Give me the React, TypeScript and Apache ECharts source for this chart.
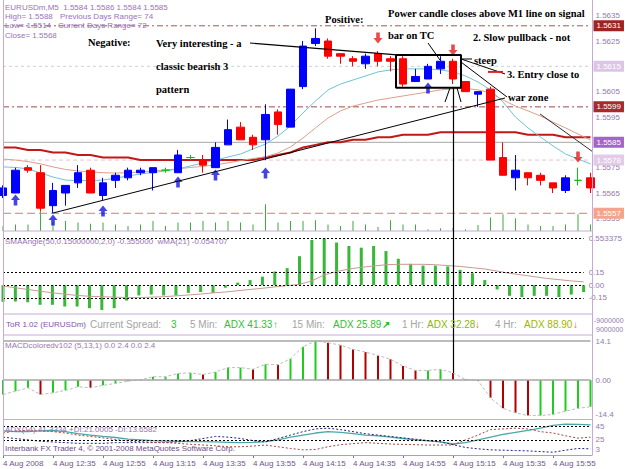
import React, { useEffect, useRef } from "react";
import * as echarts from "echarts";

// ---------- data ----------
const times = ["12:15","12:20","12:25","12:30","12:35","12:40","12:45","12:50","12:55","13:00","13:05","13:10","13:15","13:20","13:25","13:30","13:35","13:40","13:45","13:50","13:55","14:00","14:05","14:10","14:15","14:20","14:25","14:30","14:35","14:40","14:45","14:50","14:55","15:00","15:05","15:10","15:15","15:20","15:25","15:30","15:35","15:40","15:45","15:50","15:55","16:00","16:05","16:10"];

const opens = [1.5564,1.5565,1.5575,1.5573,1.5560,1.5565,1.5569,1.5574,1.5564,1.5570,1.5571,1.5573,1.5573,1.5574,1.5573,1.5579,1.5578,1.5575,1.5584,1.5591,1.5587,1.5586,1.5597,1.5591,1.5607,1.5624,1.5625,1.5620,1.5618,1.5616,1.5620,1.5618,1.5618,1.5609,1.5610,1.5614,1.5617,1.5609,1.5604,1.5606,1.5579,1.5571,1.5573,1.5572,1.5569,1.5566,1.5570,1.5571];
const closes = [1.5567,1.5574,1.5574,1.5559,1.5566,1.5568,1.5573,1.5565,1.5569,1.5572,1.5574,1.5574,1.5575,1.5574,1.5580,1.5579,1.5576,1.5583,1.5590,1.5586,1.5584,1.5596,1.5592,1.5606,1.5623,1.5626,1.5619,1.5619,1.5617,1.5619,1.5617,1.5617,1.5608,1.5611,1.5615,1.5617,1.5610,1.5605,1.5605,1.5578,1.5572,1.5574,1.5571,1.5570,1.5567,1.5571,1.5570,1.5567];
const lows = [1.5563,1.5565,1.5573,1.5558,1.5557,1.5560,1.5567,1.5565,1.5562,1.5567,1.5570,1.5572,1.5566,1.5573,1.5573,1.5578,1.5573,1.5575,1.5584,1.5586,1.5582,1.5578,1.5588,1.5591,1.5606,1.5623,1.5618,1.5616,1.5615,1.5614,1.5615,1.5613,1.5607,1.5609,1.5610,1.5612,1.5608,1.5605,1.5599,1.5578,1.5572,1.5566,1.5568,1.5568,1.5565,1.5565,1.5568,1.5565];
const highs = [1.5568,1.5575,1.5576,1.5576,1.5569,1.5568,1.5576,1.5575,1.5571,1.5573,1.5575,1.5575,1.5575,1.5575,1.5582,1.5580,1.5580,1.5585,1.5594,1.5593,1.5588,1.5600,1.5598,1.5606,1.5625,1.5630,1.5626,1.5620,1.5619,1.5620,1.5621,1.5619,1.5619,1.5614,1.5616,1.5619,1.5618,1.5609,1.5605,1.5607,1.5585,1.5580,1.5573,1.5573,1.5569,1.5572,1.5575,1.5573];

const maSlow = [1.5583,1.5583,1.5582,1.5582,1.5581,1.5581,1.5580,1.5580,1.5579,1.5579,1.5579,1.5578,1.5578,1.5578,1.5578,1.5578,1.5578,1.5578,1.5578,1.5578,1.5578,1.5579,1.5580,1.5581,1.5583,1.5584,1.5585,1.5585,1.5586,1.5586,1.5587,1.5587,1.5588,1.5588,1.5588,1.5589,1.5589,1.5589,1.5589,1.5589,1.5589,1.5589,1.5588,1.5588,1.5588,1.5587,1.5587,1.5587];
const maMid = [1.55784,1.55780,1.55774,1.55765,1.55753,1.55743,1.55737,1.55733,1.55730,1.55729,1.55730,1.55733,1.55737,1.55741,1.55745,1.55751,1.55755,1.55761,1.55769,1.55778,1.55786,1.55793,1.55808,1.55832,1.55867,1.55907,1.55946,1.55974,1.55993,1.56005,1.56017,1.56025,1.56033,1.56041,1.56049,1.56057,1.56061,1.56063,1.56057,1.56045,1.56017,1.55993,1.55974,1.55954,1.55930,1.55907,1.55883,1.55859];
const maFast = [1.55753,1.55751,1.55745,1.55729,1.55713,1.55701,1.55699,1.55699,1.55701,1.55709,1.55717,1.55725,1.55731,1.55737,1.55745,1.55757,1.55769,1.55780,1.55792,1.55804,1.55824,1.55843,1.55875,1.55915,1.55966,1.56013,1.56057,1.56080,1.56096,1.56112,1.56128,1.56136,1.56140,1.56140,1.56140,1.56136,1.56128,1.56112,1.56088,1.56057,1.56009,1.55950,1.55907,1.55871,1.55836,1.55804,1.55784,1.55765];

const volumes = [22,29,29,123,37,44,37,32,37,29,22,29,44,22,37,37,44,37,44,37,29,117,37,44,44,47,29,22,44,29,18,47,29,29,8,12,13,8,26,59,73,56,29,22,22,29,73,29];

const upArrowBars = [1,4,8,14,17,21,34];
const upArrowPrices = [1.55622,1.55543,1.55579,1.55693,1.55721,1.55729,1.56064];
const downArrowBars = [30,36,46];
const downArrowPrices = [1.56262,1.56214,1.55792];

const priceTicks = [1.5555,1.5565,1.5575,1.5585,1.5595,1.5605,1.5615,1.5625,1.5635];

// horizontal price levels drawn on the chart, with their right-hand tags
const levelPrices = [1.5631,1.5615,1.5599,1.5585,1.5578,1.5557];
const levelLineColors = ["#a05858","#cfcfcf","#a04848","#a8a8a8","#e6c2d2","#d67a7a"];
const levelTagColors = ["#9e2424","#dcc6e6","#a42c2c","#a465c8","#e2cbe6","#f2a48c"];
const levelDash: any[] = [[6,3,2,3],[3,3],[6,3,2,3],"solid",[4,3],[8,4]];

const smaAngle = [-0.195,-0.19,-0.20,-0.23,-0.23,-0.25,-0.25,-0.27,-0.29,-0.27,-0.18,-0.12,-0.11,-0.12,-0.12,-0.09,-0.08,-0.09,-0.03,0.03,0.06,0.10,0.16,0.20,0.34,0.53,0.55,0.50,0.46,0.44,0.46,0.40,0.31,0.25,0.23,0.23,0.22,0.18,0.14,0.06,-0.05,-0.125,-0.14,-0.125,-0.125,-0.14,-0.11,-0.08];
const smaWma = [-0.01,-0.03,-0.05,-0.07,-0.09,-0.105,-0.12,-0.13,-0.135,-0.14,-0.145,-0.146,-0.14,-0.135,-0.125,-0.115,-0.104,-0.09,-0.08,-0.065,-0.05,-0.036,-0.02,-0.005,0.01,0.05,0.12,0.16,0.19,0.21,0.225,0.24,0.245,0.245,0.245,0.24,0.23,0.22,0.205,0.19,0.165,0.14,0.12,0.10,0.08,0.065,0.05,0.04];
const smaLevels = [0.553375,0.15,0,-0.15];
const smaTicks = [-0.290875,-0.15,0,0.15,0.553375];
const smaTickLabels = ["-0.290875","-0.15","0.00","0.15","0.553375"];

const macd = [-5.2,-4.0,-2.8,-5.2,-4.6,-3.7,-2.4,-2.8,-1.9,-1.2,-0.4,0.1,1.2,1.2,2.4,2.6,2.0,2.9,4.5,4.5,3.9,5.7,5.5,7.7,12.0,14.1,13.5,12.6,11.1,10.1,8.9,7.5,5.1,3.5,3.5,3.9,2.6,0.2,-0.2,-6.4,-10.2,-11.8,-12.8,-12.8,-12.4,-11.2,-10.2,-9.6];
const macdTicks = [-14.4,0,14.1];
const macdTickLabels = ["-14.4","0.00","14.1"];

const adx = [38,37,37,38,39,37,34,32,30,28.5,26,25,24,23.4,23,22.5,22.4,22,21.5,21,21.5,22.4,25,29,32,35,37,36,34,32,30.7,29,27,25,23.5,22,19,21,25,29,33,36,39,42,46,48,47.5,47];
const plusDI = [29,27,25,23,22,21,20,20,20,21,21,21,21,21,22,24,27,30,29,27,24,22,27,32,37,41,42,40,37,34,32,30,28,26,24,22,18,14,12,10.5,10,9.5,9,8,7,10,12.5,12];
const minusDI = [35,38,39,38,37,35,32,30,28,25.5,23.5,22.5,21.5,21,20,18.5,17.5,16.5,15,15,16,17.5,15,12.5,10.5,11,15,18,19.5,21,20,19,18.5,18,17.5,17.5,17.6,25,32,40,41,42,41,37,35,31,27.5,29];
const adxTicks = [3,25,45];

// annotation segments in (bar, price) coordinates
const trendUp = [[4,1.55571],[40.16,1.56025]];
const trendTop = [[19.76,1.56242],[31.52,1.56195]];
const signalBox = [[31.44,1.56195],[36.64,1.56195],[36.64,1.56065],[31.44,1.56065],[31.44,1.56195]];
const tcPointer = [[34.0,1.56242],[34.96,1.56175]];
const steepDash = [[36.72,1.56179],[37.52,1.56179]];
const entryPointer = [[36.64,1.56179],[40.16,1.56120]];
const warPointer = [[36.64,1.56167],[40.32,1.56029]];
const entryRedDash = [[38.8,1.56128],[40.0,1.56128]];
const boxLegL = [[35.76,1.56065],[35.36,1.56009]];
const boxLegR = [[36.32,1.56065],[36.64,1.56009]];
const rightTrend = [[42.96,1.55962],[47.2,1.55812]];
const signalBar = 36;
const signalBoxBottom = 1.56065;

const SANS = '"Liberation Sans", Arial, sans-serif';
const SERIF = '"Liberation Serif", "Times New Roman", serif';
const PURPLE = "#9b72b8";
const AXIS_TXT = "#9479ad";
const BORDER = "#c8a8d8";

function seg(data: number[][], color: string, width = 1, type: any = "solid") {
  return {
    type: "line", xAxisIndex: 4, yAxisIndex: 0, data, symbol: "none", silent: true,
    lineStyle: { color, width, type }, z: 6,
  };
}

function levelSeries(i: number) {
  const v = levelPrices[i];
  return {
    type: "line", xAxisIndex: 4, yAxisIndex: 0, data: [[0, v], [47, v]], symbol: "none", silent: true, z: 2,
    lineStyle: { color: levelLineColors[i], width: 1, type: levelDash[i] },
    endLabel: {
      show: true, formatter: () => v.toFixed(4), distance: 3,
      backgroundColor: levelTagColors[i], color: "#ffffff", fontSize: 8, fontFamily: SANS, padding: [2, 3, 1, 3],
    },
  };
}

function txt(text: string, x: number, y: number, fill: string, font: string) {
  return { type: "text", x, y, silent: true, z: 100, style: { text, fill, font, verticalAlign: "middle" } };
}
function hline(y: number, x1: number, x2: number, color = BORDER, w = 1) {
  return { type: "line", silent: true, z: 90, shape: { x1, y1: y, x2, y2: y }, style: { stroke: color, lineWidth: w } };
}
function vline(x: number, y1: number, y2: number, color = BORDER, w = 1) {
  return { type: "line", silent: true, z: 90, shape: { x1: x, y1, x2: x, y2 }, style: { stroke: color, lineWidth: w } };
}

const GL = 3, GR = 34.5;

function buildOption() {
  const candleData = opens.map((o, i) => {
    const v = [o, closes[i], lows[i], highs[i]];
    if (o === closes[i]) {
      return { value: v, itemStyle: { color: "#10c010", color0: "#10c010", borderColor: "#10c010", borderColor0: "#10c010" } };
    }
    return v;
  });
  const macdData = macd.map((v, i) => ({
    value: v,
    itemStyle: { color: i > 0 && v < macd[i - 1] ? "#b00000" : "#1ecc1e" },
  }));
  const hiddenCat = (gridIndex: number) => ({
    type: "category", gridIndex, data: times, boundaryGap: false, show: false,
  });
  const yRight = (gridIndex: number, min: number, max: number, custom: number[], fmt: (v: number) => string, rich: any = undefined) => ({
    type: "value", gridIndex, position: "right", offset: 2, min, max, scale: true,
    splitLine: { show: false }, axisLine: { show: false }, axisTick: { show: false },
    axisLabel: { customValues: custom, formatter: fmt, color: AXIS_TXT, fontSize: 8, fontFamily: SANS, margin: 3, rich },
  });
  const liftRich = { up: { padding: [0, 0, 11, 0], color: AXIS_TXT, fontSize: 8, fontFamily: SANS } };

  return {
    animation: false,
    backgroundColor: "#ffffff",
    grid: [
      { left: GL, right: GR, top: 3, height: 228 },
      { left: GL, right: GR, top: 238, height: 72 },
      { left: GL, right: GR, top: 341, height: 79 },
      { left: GL, right: GR, top: 421, height: 34 },
    ],
    xAxis: [
      hiddenCat(0),
      hiddenCat(1),
      hiddenCat(2),
      {
        type: "category", gridIndex: 3, data: times, boundaryGap: false,
        axisLine: { show: false },
        axisTick: { show: true, interval: 3, length: 3, lineStyle: { color: "#8a6aa6" } },
        axisLabel: {
          interval: 3, align: "left", color: "#6f5688", fontSize: 8, fontFamily: SANS, margin: 4,
          formatter: (v: string, i: number) => (i === 0 ? "4 Aug 2008" : "4 Aug " + v),
        },
      },
      { type: "value", gridIndex: 0, min: 0, max: 47, show: false },
    ],
    yAxis: [
      yRight(0, 1.555, 1.564, priceTicks, (v) => v.toFixed(4)),
      { type: "value", gridIndex: 0, min: 0, max: 1000, show: false },
      yRight(1, -0.290875, 0.553375, smaTicks, (v) => {
        const k = smaTicks.findIndex((t) => Math.abs(t - v) < 1e-6);
        if (k < 0) return "";
        return k === 0 ? "{up|" + smaTickLabels[k] + "}" : smaTickLabels[k];
      }, liftRich),
      yRight(2, -14.4, 14.1, macdTicks, (v) => {
        const k = macdTicks.findIndex((t) => Math.abs(t - v) < 1e-6);
        if (k < 0) return "";
        return k === 0 ? "{up|" + macdTickLabels[k] + "}" : macdTickLabels[k];
      }, liftRich),
      yRight(3, 3, 52.5, adxTicks, (v) => (Math.round(v) === 3 ? "{up|3}" : String(Math.round(v))), liftRich),
    ],
    series: [
      { type: "bar", xAxisIndex: 0, yAxisIndex: 1, data: volumes, barWidth: 1, silent: true, itemStyle: { color: "#3cae3c" }, z: 1 },
      ...levelPrices.map((_, i) => levelSeries(i)),
      { type: "line", xAxisIndex: 0, yAxisIndex: 0, data: maSlow, symbol: "none", silent: true, lineStyle: { color: "#c21818", width: 2 }, z: 2 },
      { type: "line", xAxisIndex: 0, yAxisIndex: 0, data: maMid, symbol: "none", silent: true, lineStyle: { color: "#d9a08a", width: 1 }, z: 2 },
      { type: "line", xAxisIndex: 0, yAxisIndex: 0, data: maFast, symbol: "none", silent: true, lineStyle: { color: "#6cc4d4", width: 1 }, z: 2 },
      {
        type: "candlestick", xAxisIndex: 0, yAxisIndex: 0, data: candleData, barWidth: 8, z: 3, silent: true,
        itemStyle: { color: "#0000ff", color0: "#ff0000", borderColor: "#0000ff", borderColor0: "#ff0000", borderWidth: 1 },
      },
      {
        type: "scatter", xAxisIndex: 0, yAxisIndex: 0, silent: true, z: 4,
        data: upArrowBars.map((b, i) => [b, upArrowPrices[i]]),
        symbol: "path://M5 0 L10 6 L7 6 L7 12 L3 12 L3 6 L0 6 Z", symbolSize: [9, 11],
        itemStyle: { color: "#1414e0" },
      },
      {
        type: "scatter", xAxisIndex: 0, yAxisIndex: 0, silent: true, z: 4,
        data: downArrowBars.map((b, i) => [b, downArrowPrices[i]]),
        symbol: "path://M3 0 L7 0 L7 6 L10 6 L5 12 L0 6 L3 6 Z", symbolSize: [9, 11],
        itemStyle: { color: "#e41c1c" },
      },
      seg(trendUp, "#000000", 1),
      seg(trendTop, "#000000", 1.2),
      seg(signalBox, "#000000", 2),
      seg(tcPointer, "#000000", 1),
      seg(steepDash, "#808080", 2),
      seg(entryPointer, "#000000", 1),
      seg(warPointer, "#000000", 1),
      seg(entryRedDash, "#e02020", 2),
      seg(boxLegL, "#000000", 1),
      seg(boxLegR, "#000000", 1),
      seg(rightTrend, "#303030", 1),
      // SMA angle panel
      {
        type: "bar", xAxisIndex: 1, yAxisIndex: 2, data: smaAngle, barWidth: 3, silent: true,
        itemStyle: { color: "#37b837" },
        markLine: {
          silent: true, symbol: ["none", "none"], label: { show: false },
          lineStyle: { color: "#000000", type: [2, 2], width: 1 },
          data: smaLevels.map((v) => ({ yAxis: v })),
        },
      },
      { type: "line", xAxisIndex: 1, yAxisIndex: 2, data: smaWma, symbol: "none", silent: true, lineStyle: { color: "#c89a92", width: 1 } },
      // MACD panel
      {
        type: "bar", xAxisIndex: 2, yAxisIndex: 3, data: macdData, barWidth: 2, silent: true,
        markLine: {
          silent: true, symbol: ["none", "none"], label: { show: false },
          lineStyle: { color: "#a6a6a6", type: "solid", width: 1.5 },
          data: [{ yAxis: 0 }, { yAxis: 14.1 }],
        },
      },
      { type: "line", xAxisIndex: 2, yAxisIndex: 3, data: macd, symbol: "none", silent: true, lineStyle: { color: "#bcbcbc", width: 1, type: [3, 2] } },
      // ADX panel
      {
        type: "line", xAxisIndex: 3, yAxisIndex: 4, data: adx, symbol: "none", silent: true, lineStyle: { color: "#4aa8a8", width: 1.3 },
        markLine: {
          silent: true, symbol: ["none", "none"], label: { show: false },
          lineStyle: { color: "#000000", type: [2, 2], width: 1 },
          data: [{ yAxis: 45 }, { yAxis: 25 }],
        },
      },
      { type: "line", xAxisIndex: 3, yAxisIndex: 4, data: plusDI, symbol: "none", silent: true, lineStyle: { color: "#22227e", width: 1, type: [2, 2] } },
      { type: "line", xAxisIndex: 3, yAxisIndex: 4, data: minusDI, symbol: "none", silent: true, lineStyle: { color: "#a84444", width: 1, type: [2, 2] } },
    ],
  };
}

function buildGraphics(vx: number, vy1: number, vy2: number) {
  const small = `8px ${SANS}`;
  const tiny = `7px ${SANS}`;
  const bold = `bold 10.5px ${SERIF}`;
  const strip = `10px ${SANS}`;
  const gray = "#a4a4a4";
  return [
    // frame
    vline(3.5, 0, 455), vline(592.5, 0, 455),
    hline(231, 3, 592.5), hline(314, 3, 592.5), hline(335, 3, 592.5),
    hline(419.5, 3, 592.5), hline(455.5, 3, 592.5, "#b894cc"),
    // header
    txt("EURUSDm,M5  1.5584 1.5586 1.5584 1.5585", 5, 7, PURPLE, small),
    txt("High= 1.5588", 5, 16, PURPLE, small),
    txt("Previous Days Range= 74", 60, 16, PURPLE, small),
    txt("Low= 1.5514", 5, 25.5, PURPLE, small),
    txt("Current Days Range= 72", 58, 25.5, PURPLE, small),
    txt("Close= 1.5568", 5, 35, PURPLE, small),
    // annotations
    txt("Negative:", 88, 42, "#000", bold),
    txt("Very interesting - a", 156, 43, "#000", bold),
    txt("classic bearish 3", 156, 66, "#000", bold),
    txt("pattern", 156, 89, "#000", bold),
    txt("Positive:", 325, 19, "#000", bold),
    txt("Power candle closes above M1 line on signal", 388, 13, "#000", bold),
    txt("bar on TC", 388, 35, "#000", bold),
    txt("2. Slow pullback - not", 473, 37, "#000", bold),
    txt("steep", 474, 60, "#000", bold),
    txt("3. Entry close to", 507, 74, "#000", bold),
    txt("war zone", 508, 97, "#000", bold),
    // indicator captions
    txt("SMAAngle(50,0.15000000,2,0) -0.355000  wMA(21) -0.054707", 5, 241, PURPLE, small),
    txt("MACDcoloredv102 (5,13,1) 0.0 2.4 0.0 2.4", 5, 345, PURPLE, small),
    txt("ADX(14) 41.3334 +DI:21.0005 -DI:13.6582", 5, 429, PURPLE, small),
    txt("Interbank FX Trader 4, © 2001-2008 MetaQuotes Software Corp.", 5, 448, "#6a4c86", small),
    // ToR strip
    txt("ToR 1.02 (EURUSDm)", 6, 324, "#8452aa", small),
    txt("Current Spread:", 90, 324, gray, strip),
    txt("3", 171, 324, "#2fbf2f", strip),
    txt("5 Min:", 190, 324, gray, strip),
    txt("ADX 41.33", 224, 324, "#2fbf2f", strip),
    txt("↑", 273, 324, "#2fbf2f", `bold 10px ${SANS}`),
    txt("15 Min:", 292, 324, gray, strip),
    txt("ADX 25.89", 333, 324, "#2fbf2f", strip),
    txt("↗", 382, 324, "#2fbf2f", `bold 10px ${SANS}`),
    txt("1 Hr:", 402, 324, gray, strip),
    txt("ADX 32.28", 427, 324, "#8fb800", strip),
    txt("↓", 475, 324, "#d07a00", `bold 10px ${SANS}`),
    txt("4 Hr:", 495, 324, gray, strip),
    txt("ADX 88.90", 524, 324, "#a2b400", strip),
    txt("↓", 573, 324, "#d07a00", `bold 10px ${SANS}`),
    txt("-9000000", 594, 320, AXIS_TXT, tiny),
    txt("9000000", 596, 329, AXIS_TXT, tiny),
    // vertical signal line from box to MACD bar
    { type: "line", silent: true, z: 95, shape: { x1: vx, y1: vy1, x2: vx, y2: vy2 }, style: { stroke: "#000", lineWidth: 1.2 } },
  ];
}

export default function App() {
  const ref = useRef<HTMLDivElement>(null);
  useEffect(() => {
    if (!ref.current) return;
    const chart = echarts.init(ref.current, null, { renderer: "svg" });
    chart.setOption(buildOption() as any);
    const p1 = chart.convertToPixel({ xAxisIndex: 0, yAxisIndex: 0 } as any, [signalBar, signalBoxBottom]) as number[];
    const p2 = chart.convertToPixel({ xAxisIndex: 2, yAxisIndex: 3 } as any, [signalBar, macd[signalBar]]) as number[];
    chart.setOption({ graphic: { elements: buildGraphics(Math.round(p1[0]) + 0.5, p1[1], p2[1]) } } as any);
    return () => chart.dispose();
  }, []);
  return (
    <div
      ref={ref}
      style={{ position: "absolute", left: 0, top: 0, width: 625, height: 469, background: "#fff" }}
    />
  );
}
